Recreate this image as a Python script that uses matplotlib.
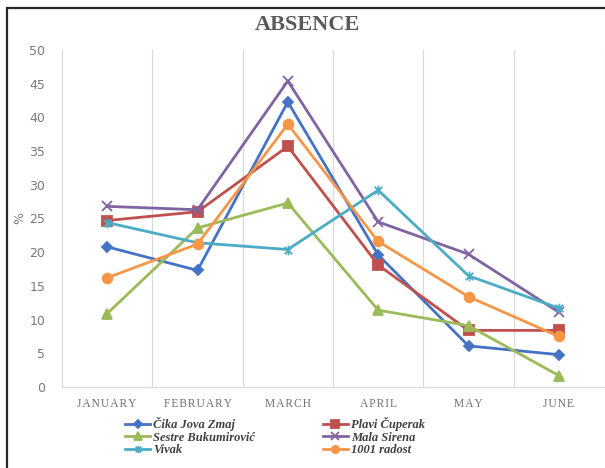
import matplotlib
matplotlib.use("Agg")
import matplotlib.pyplot as plt
import numpy as np
from matplotlib.path import Path
from matplotlib.patches import Rectangle

months = ["JANUARY", "FEBRUARY", "MARCH", "APRIL", "MAY", "JUNE"]
cika = [20.8, 17.3, 42.3, 19.6, 6.1, 4.8]
plavi = [24.7, 26.0, 35.7, 18.1, 8.4, 8.4]
sestre = [10.9, 23.6, 27.3, 11.4, 9.1, 1.7]
mala = [26.8, 26.3, 45.4, 24.5, 19.7, 11.1]
vivak = [24.4, 21.4, 20.4, 29.2, 16.5, 11.7]
radost = [16.2, 21.2, 39.0, 21.6, 13.4, 7.5]
yticks = [0, 5, 10, 15, 20, 25, 30, 35, 40, 45, 50]

star = Path([(-1, -1), (1, 1), (-1, 1), (1, -1), (0, -1.3), (0, 1.3)],
            [Path.MOVETO, Path.LINETO, Path.MOVETO, Path.LINETO, Path.MOVETO, Path.LINETO])

fig = plt.figure(figsize=(6.05, 4.68), dpi=100)
ax = fig.add_axes([62/605, 1-387/468, (604-62)/605, (387-50)/468])

x = np.arange(len(months))
series = [
    ("Čika Jova Zmaj", cika, "#4472C4", "D", 5.5),
    ("Sestre Bukumirović", sestre, "#9BBB59", "^", 7),
    ("Vivak", vivak, "#4BACC6", star, 7),
    ("Plavi Čuperak", plavi, "#C0504D", "s", 7),
    ("Mala Sirena", mala, "#8064A2", "x", 7),
    ("1001 radost", radost, "#F79646", "o", 7),
]
order = [0, 3, 1, 4, 2, 5]
handles = {}
for i in order:
    name, vals, col, mk, ms = series[i]
    ln, = ax.plot(x, vals, color=col, lw=2.0, marker=mk, markersize=ms,
                  markeredgewidth=1.3, markerfacecolor=col, markeredgecolor=col,
                  label=name, zorder=3)
    handles[i] = ln

ax.set_xlim(-0.5, len(months) - 0.5)
ax.set_ylim(0, 50)
ax.set_yticks(yticks)
ax.set_xticks(x)
spaced = ["\u200a".join(m) for m in months]
ax.set_xticklabels(spaced, family=["Liberation Serif", "DejaVu Serif"], fontsize=8.3, color="#707070")
ax.tick_params(axis="y", labelsize=9, colors="#7a7a7a", length=0, pad=12)
ax.tick_params(axis="x", length=0, pad=8)
for b in np.arange(-0.5, len(months) + 0.5, 1):
    ax.axvline(b, color="#D9D9D9", lw=0.9, zorder=1)
for s in ["top", "right", "left"]:
    ax.spines[s].set_visible(False)
ax.spines["bottom"].set_color("#D9D9D9")
ax.set_ylabel("%", fontsize=9, color="#7a7a7a", labelpad=2)

fig.text(307/605, 1-25/468, "ABSENCE", ha="center", va="center",
         family="Liberation Serif", fontweight="bold", fontsize=16, color="#595959")

leg = fig.legend([handles[i] for i in range(6)], [series[i][0] for i in range(6)],
                 ncol=2, loc="center", bbox_to_anchor=(275/605, 1-436.5/468),
                 frameon=False, handlelength=2.0, handletextpad=0.25, markerscale=0.75,
                 columnspacing=5.4, labelspacing=0.05, borderpad=0.2,
                 prop={"family": "Liberation Serif", "weight": "bold", "style": "italic", "size": 9})
for t in leg.get_texts():
    t.set_color("#404040")

fig.patches.append(Rectangle((7/605, -0.1), 1.2, 1.1 - 8/468, transform=fig.transFigure,
                             fill=False, edgecolor="#262626", lw=1.6))

fig.savefig("out.png", dpi=100)
